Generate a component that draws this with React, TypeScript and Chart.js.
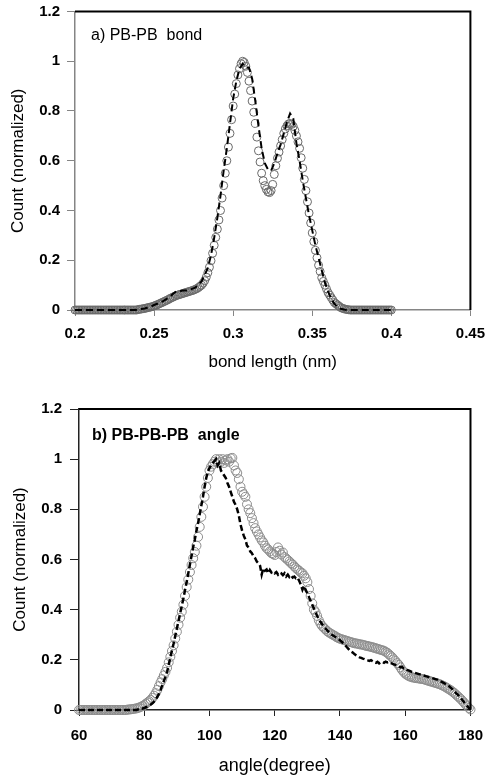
import React, { useEffect, useRef } from 'react';
import { Chart, registerables } from 'chart.js';

Chart.register(...registerables);

const FONT = '"Liberation Sans", Arial, Helvetica, sans-serif';

// ---------- Panel a) PB-PB bond ----------
const bondTicksX = [0.2, 0.25, 0.3, 0.35, 0.4, 0.45];
const countTicksY = [0, 0.2, 0.4, 0.6, 0.8, 1, 1.2];

// target distribution (open circles), sampled every 0.001 nm from 0.200 nm
const bondCircleStart = 0.2;
const bondCircleStep = 0.001;
const bondCircleY = [
  0, 0, 0, 0, 0, 0, 0, 0, 0, 0,
  0, 0, 0, 0, 0, 0, 0, 0, 0, 0,
  0, 0, 0, 0, 0, 0, 0, 0, 0, 0,
  0, 0, 0, 0, 0, 0, 0, 0, 0, 0,
  0.002, 0.003, 0.004, 0.005, 0.006, 0.008, 0.009, 0.011, 0.012, 0.014,
  0.016, 0.019, 0.021, 0.024, 0.027, 0.030, 0.033, 0.036, 0.039, 0.042,
  0.046, 0.049, 0.052, 0.055, 0.058, 0.060, 0.062, 0.064, 0.066, 0.068,
  0.070, 0.072, 0.074, 0.076, 0.078, 0.080, 0.083, 0.086, 0.090, 0.095,
  0.100, 0.108, 0.118, 0.132, 0.150, 0.172, 0.198, 0.228, 0.260, 0.292,
  0.325, 0.362, 0.400, 0.450, 0.500, 0.550, 0.600, 0.655, 0.710, 0.765,
  0.820, 0.868, 0.910, 0.945, 0.970, 0.990, 1.000, 0.995, 0.980, 0.955,
  0.920, 0.882, 0.840, 0.795, 0.750, 0.695, 0.640, 0.595, 0.550, 0.520,
  0.500, 0.485, 0.475, 0.472, 0.480, 0.505, 0.545, 0.580, 0.610, 0.635,
  0.660, 0.685, 0.710, 0.728, 0.740, 0.748, 0.750, 0.746, 0.738, 0.722,
  0.700, 0.676, 0.650, 0.612, 0.570, 0.525, 0.480, 0.435, 0.390, 0.350,
  0.310, 0.275, 0.240, 0.210, 0.180, 0.155, 0.130, 0.115, 0.100, 0.085,
  0.070, 0.060, 0.050, 0.040, 0.030, 0.025, 0.020, 0.015, 0.010, 0.007,
  0.005, 0.003, 0.002, 0.001,
  0, 0, 0, 0, 0, 0, 0, 0, 0, 0,
  0, 0, 0, 0, 0, 0, 0, 0, 0, 0,
  0, 0, 0, 0, 0, 0, 0,
];

// simulated distribution (dashed line), sampled every 0.002 nm from 0.200 nm
const bondLineStart = 0.2;
const bondLineStep = 0.002;
const bondLineY = [
  0, 0, 0, 0, 0, 0, 0, 0, 0, 0,
  0, 0, 0, 0, 0, 0, 0, 0, 0, 0,
  0.002, 0.004, 0.006, 0.010, 0.014, 0.020, 0.025, 0.030, 0.037, 0.045,
  0.052, 0.065, 0.075, 0.075, 0.078, 0.078, 0.080, 0.085, 0.090, 0.100,
  0.115, 0.140, 0.170, 0.220, 0.290, 0.370, 0.460, 0.560, 0.650, 0.750,
  0.850, 0.920, 0.970, 0.990, 0.975, 0.975, 0.930, 0.840, 0.740, 0.650,
  0.590, 0.565, 0.560, 0.590, 0.630, 0.665, 0.710, 0.755, 0.790, 0.770,
  0.670, 0.600, 0.520, 0.450, 0.380, 0.320, 0.260, 0.210, 0.160, 0.110,
  0.075, 0.045, 0.025, 0.012, 0.005, 0.002,
  0, 0, 0, 0, 0, 0, 0, 0, 0, 0,
  0, 0, 0, 0, 0,
];

// ---------- Panel b) PB-PB-PB angle ----------
const angleTicksX = [60, 80, 100, 120, 140, 160, 180];

// target distribution (open circles), sampled every 0.5 degree from 60
const angleCircleStart = 60;
const angleCircleStep = 0.5;
const angleCircleY = [
  0, 0, 0, 0, 0, 0, 0, 0, 0, 0,
  0, 0, 0, 0, 0, 0, 0, 0, 0, 0,
  0, 0, 0, 0, 0, 0, 0, 0, 0, 0,
  0.002, 0.002, 0.003, 0.004, 0.005, 0.006, 0.008, 0.010, 0.013, 0.016,
  0.020, 0.025, 0.030, 0.035, 0.040, 0.048, 0.057, 0.067, 0.080, 0.095,
  0.110, 0.123, 0.138, 0.152, 0.168, 0.190, 0.212, 0.235, 0.258, 0.285,
  0.312, 0.340, 0.368, 0.392, 0.420, 0.455, 0.490, 0.520, 0.550, 0.578,
  0.605, 0.630, 0.655, 0.690, 0.730, 0.770, 0.810, 0.850, 0.890, 0.925,
  0.955, 0.970, 0.980, 0.990, 1.000, 0.985, 1.000, 0.990, 1.000, 0.985,
  0.995, 1.000, 0.990, 1.003, 1.005, 0.975, 0.955, 0.945, 0.920, 0.890,
  0.870, 0.860, 0.850, 0.820, 0.800, 0.785, 0.765, 0.745, 0.725, 0.712,
  0.700, 0.688, 0.676, 0.668, 0.655, 0.645, 0.640, 0.632, 0.625, 0.622,
  0.618, 0.630, 0.648, 0.635, 0.620, 0.628, 0.610, 0.604, 0.598, 0.592,
  0.585, 0.580, 0.572, 0.566, 0.560, 0.555, 0.548, 0.545, 0.535, 0.525,
  0.510, 0.482, 0.455, 0.425, 0.400, 0.390, 0.375, 0.358, 0.345, 0.335,
  0.328, 0.322, 0.315, 0.310, 0.306, 0.302, 0.298, 0.295, 0.290, 0.287,
  0.284, 0.282, 0.280, 0.278, 0.276, 0.274, 0.272, 0.270, 0.268, 0.266,
  0.265, 0.264, 0.262, 0.261, 0.260, 0.258, 0.256, 0.255, 0.253, 0.252,
  0.250, 0.248, 0.246, 0.244, 0.242, 0.240, 0.238, 0.236, 0.232, 0.228,
  0.222, 0.216, 0.210, 0.202, 0.195, 0.187, 0.180, 0.170, 0.160, 0.152,
  0.145, 0.140, 0.136, 0.133, 0.131, 0.129, 0.128, 0.127, 0.126, 0.125,
  0.124, 0.123, 0.121, 0.119, 0.117, 0.115, 0.113, 0.111, 0.109, 0.107,
  0.105, 0.103, 0.100, 0.097, 0.094, 0.090, 0.086, 0.082, 0.078, 0.073,
  0.068, 0.062, 0.056, 0.050, 0.044, 0.037, 0.030, 0.022, 0.015, 0.008,
  0.002,
];

// simulated distribution (dashed line), sampled every 0.5 degree from 60
const angleLineStart = 60;
const angleLineStep = 0.5;
const angleLineY = [
  0, 0, 0, 0, 0, 0, 0, 0, 0, 0,
  0, 0, 0, 0, 0, 0, 0, 0, 0, 0,
  0, 0, 0, 0, 0, 0, 0, 0, 0, 0,
  0, 0, 0, 0, 0, 0, 0.002, 0.003, 0.004, 0.006,
  0.008, 0.011, 0.014, 0.018, 0.022, 0.027, 0.033, 0.042, 0.052, 0.065,
  0.080, 0.098, 0.115, 0.133, 0.152, 0.180, 0.210, 0.238, 0.265, 0.295,
  0.325, 0.355, 0.385, 0.415, 0.445, 0.478, 0.510, 0.545, 0.580, 0.615,
  0.650, 0.680, 0.715, 0.745, 0.780, 0.815, 0.850, 0.890, 0.925, 0.950,
  0.965, 0.975, 0.985, 0.992, 1.000, 0.975, 0.985, 0.955, 0.945, 0.935,
  0.925, 0.905, 0.890, 0.870, 0.850, 0.830, 0.818, 0.800, 0.775, 0.740,
  0.715, 0.695, 0.680, 0.655, 0.648, 0.632, 0.625, 0.612, 0.605, 0.592,
  0.585, 0.575, 0.540, 0.565, 0.555, 0.560, 0.545, 0.558, 0.548, 0.552,
  0.545, 0.550, 0.540, 0.548, 0.545, 0.538, 0.545, 0.532, 0.540, 0.530,
  0.536, 0.528, 0.532, 0.525, 0.528, 0.515, 0.500, 0.480, 0.495, 0.478,
  0.465, 0.450, 0.435, 0.420, 0.405, 0.390, 0.375, 0.362, 0.352, 0.342,
  0.333, 0.326, 0.318, 0.312, 0.306, 0.300, 0.296, 0.292, 0.288, 0.283,
  0.278, 0.272, 0.266, 0.260, 0.252, 0.245, 0.238, 0.232, 0.228, 0.222,
  0.218, 0.214, 0.210, 0.208, 0.205, 0.203, 0.200, 0.198, 0.196, 0.199,
  0.194, 0.190, 0.188, 0.192, 0.186, 0.190, 0.192, 0.188, 0.193, 0.190,
  0.192, 0.187, 0.185, 0.182, 0.180, 0.176, 0.174, 0.170, 0.172, 0.166,
  0.165, 0.160, 0.158, 0.155, 0.152, 0.150, 0.148, 0.146, 0.144, 0.142,
  0.140, 0.138, 0.136, 0.134, 0.132, 0.130, 0.128, 0.126, 0.124, 0.122,
  0.120, 0.116, 0.113, 0.110, 0.106, 0.103, 0.100, 0.094, 0.088, 0.082,
  0.075, 0.068, 0.062, 0.055, 0.048, 0.040, 0.032, 0.024, 0.016, 0.008,
  0.002,
];

const toPoints = (start: number, step: number, ys: number[]) =>
  ys.map((y, i) => ({ x: +(start + i * step).toFixed(4), y }));

type PanelSpec = {
  height: number;
  areaTop: number;
  areaRight: number;
  yAxisWidth: number;
  xAxisHeight: number;
  xMin: number;
  xMax: number;
  xStep: number;
  xDecimals: number;
  xTicks: number[];
  xTitle: string;
  xTitleFont: any;
  yTitlePad: number;
  yTickLen: number;
  yTickPad: number;
  xTickPad: number;
  axisColor: string;
  axisWidth: number;
  lineData: { x: number; y: number }[];
  circleData: { x: number; y: number }[];
  circleColor: string;
  circleRadius: number;
  lineWidth: number;
  dash: number[];
  label: string;
  labelX: number;
  labelY: number;
  labelFont: string;
};

function makeConfig(p: PanelSpec): any {
  const framePlugin = {
    id: 'frameAndLabel',
    afterDraw(chart: any) {
      const { ctx, chartArea } = chart;
      const { left, right, top, bottom } = chartArea;
      ctx.save();
      ctx.strokeStyle = '#000';
      ctx.lineWidth = 2;
      ctx.beginPath();
      ctx.moveTo(left, top);
      ctx.lineTo(right, top);
      ctx.lineTo(right, bottom);
      ctx.stroke();
      ctx.fillStyle = '#000';
      ctx.font = p.labelFont;
      ctx.textBaseline = 'middle';
      ctx.textAlign = 'left';
      ctx.fillText(p.label, p.labelX, p.labelY);
      ctx.restore();
    },
  };
  const tickFont = { family: FONT, size: 15, weight: 'bold' as const, lineHeight: 1 };
  return {
    type: 'scatter',
    data: {
      datasets: [
        {
          label: 'simulation',
          data: p.lineData,
          showLine: true,
          borderColor: '#000',
          borderWidth: p.lineWidth,
          borderDash: p.dash,
          pointRadius: 0,
          fill: false,
          tension: 0,
          order: 0,
          clip: false,
        },
        {
          label: 'target',
          data: p.circleData,
          showLine: false,
          pointStyle: 'circle',
          pointRadius: p.circleRadius,
          pointBorderWidth: 1,
          pointBorderColor: p.circleColor,
          pointBackgroundColor: 'rgba(0,0,0,0)',
          borderColor: p.circleColor,
          backgroundColor: 'rgba(0,0,0,0)',
          order: 1,
          clip: false,
        },
      ],
    },
    options: {
      responsive: false,
      animation: false,
      devicePixelRatio: 1,
      layout: { padding: { top: p.areaTop, right: p.areaRight, left: 0, bottom: 0 } },
      plugins: { legend: { display: false }, tooltip: { enabled: false } },
      scales: {
        x: {
          type: 'linear',
          min: p.xMin,
          max: p.xMax,
          afterFit: (s: any) => { s.height = p.xAxisHeight; },
          afterBuildTicks: (s: any) => { s.ticks = p.xTicks.map((v) => ({ value: v })); },
          ticks: {
            stepSize: p.xStep,
            color: '#000',
            font: tickFont,
            padding: p.xTickPad,
            maxRotation: 0,
            autoSkip: false,
            callback: (v: any) => String(Number(Number(v).toFixed(p.xDecimals))),
          },
          grid: { drawOnChartArea: false, drawTicks: true, tickLength: 6, color: p.axisColor, tickWidth: 1 },
          border: { display: true, color: p.axisColor, width: p.axisWidth },
          title: {
            display: true,
            text: p.xTitle,
            color: '#000',
            font: p.xTitleFont,
            padding: { top: 0, bottom: 5 },
          },
        },
        y: {
          type: 'linear',
          min: 0,
          max: 1.2,
          afterFit: (s: any) => { s.width = p.yAxisWidth; },
          afterBuildTicks: (s: any) => { s.ticks = countTicksY.map((v) => ({ value: v })); },
          ticks: {
            stepSize: 0.2,
            color: '#000',
            font: tickFont,
            padding: p.yTickPad,
            callback: (v: any) => String(Number(Number(v).toFixed(1))),
          },
          grid: { drawOnChartArea: false, drawTicks: true, tickLength: p.yTickLen, color: p.axisColor, tickWidth: 1 },
          border: { display: true, color: p.axisColor, width: p.axisWidth },
          title: {
            display: true,
            text: 'Count (normalized)',
            color: '#000',
            font: { family: FONT, size: 17, weight: 'normal', lineHeight: 1.2 },
            padding: { top: p.yTitlePad, bottom: 0 },
          },
        },
      },
    },
    plugins: [framePlugin],
  };
}

function Panel({ top, spec }: { top: number; spec: PanelSpec }) {
  const ref = useRef<HTMLCanvasElement>(null);
  useEffect(() => {
    const chart = new Chart(ref.current as HTMLCanvasElement, makeConfig(spec));
    return () => chart.destroy();
  }, []);
  return (
    <div style={{ position: 'absolute', left: 0, top, width: 495, height: spec.height }}>
      <canvas ref={ref} width={495} height={spec.height} style={{ display: 'block' }} />
    </div>
  );
}

const bondSpec: PanelSpec = {
  height: 381,
  areaTop: 10,
  areaRight: 15,
  yAxisWidth: 75,
  xAxisHeight: 68,
  xMin: 0.2,
  xMax: 0.45,
  xStep: 0.05,
  xDecimals: 2,
  xTicks: bondTicksX,
  xTitle: 'bond length (nm)',
  xTitleFont: { family: FONT, size: 17, weight: 'normal', lineHeight: 1.2 },
  yTitlePad: 8,
  yTickLen: 8,
  yTickPad: 7,
  xTickPad: 10,
  axisColor: '#858585',
  axisWidth: 1.5,
  lineData: toPoints(bondLineStart, bondLineStep, bondLineY),
  circleData: toPoints(bondCircleStart, bondCircleStep, bondCircleY),
  circleColor: '#6a6a6a',
  circleRadius: 4,
  lineWidth: 2,
  dash: [7, 4],
  label: 'a) PB-PB  bond',
  labelX: 91,
  labelY: 39,
  labelFont: `16px ${FONT}`,
};

const angleSpec: PanelSpec = {
  height: 402,
  areaTop: 29,
  areaRight: 16,
  yAxisWidth: 79,
  xAxisHeight: 72,
  xMin: 60,
  xMax: 180,
  xStep: 20,
  xDecimals: 0,
  xTicks: angleTicksX,
  xTitle: 'angle(degree)',
  xTitleFont: { family: FONT, size: 18, weight: 'normal', lineHeight: 1.2 },
  yTitlePad: 10,
  yTickLen: 9,
  yTickPad: 8,
  xTickPad: 12,
  axisColor: '#222',
  axisWidth: 1.5,
  lineData: toPoints(angleLineStart, angleLineStep, angleLineY),
  circleData: toPoints(angleCircleStart, angleCircleStep, angleCircleY),
  circleColor: '#8c8c8c',
  circleRadius: 4.5,
  lineWidth: 2.5,
  dash: [6, 3],
  label: 'b) PB-PB-PB  angle',
  labelX: 92,
  labelY: 56,
  labelFont: `bold 16px ${FONT}`,
};

export default function App() {
  return (
    <div style={{ position: 'absolute', left: 0, top: 0, width: 495, height: 782, background: '#fff', overflow: 'hidden' }}>
      <Panel top={-3} spec={bondSpec} />
      <Panel top={380} spec={angleSpec} />
    </div>
  );
}
